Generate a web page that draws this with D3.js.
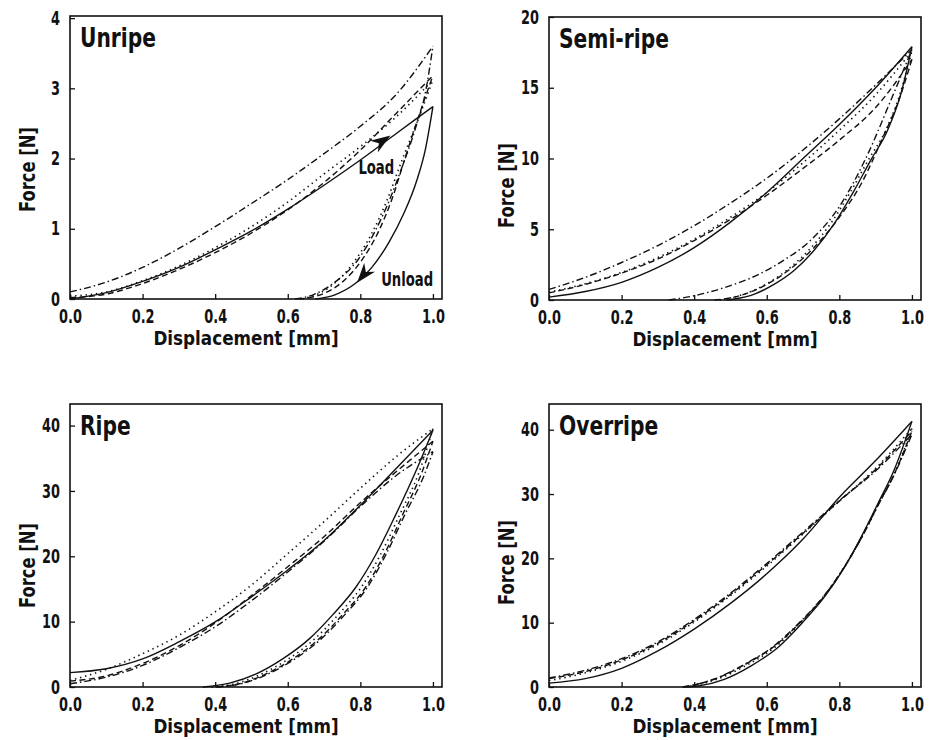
<!DOCTYPE html>
<html lang="en">
<head>
<meta charset="UTF-8">
<title>Force - Displacement</title>
<script src="https://d3js.org/d3.v7.min.js"></script>
<style>
  body { margin: 0; padding: 0; background: #fff; }
  svg text { font-family: "DejaVu Sans", sans-serif; font-weight: bold; fill: #111; }
</style>
</head>
<body>
<svg id="chart" width="929" height="740"></svg>
<script>
// displacement steps for the loading branch
const loadX = [0, 0.1, 0.2, 0.3, 0.4, 0.5, 0.6, 0.7, 0.8, 0.9, 1.0];
const xTicks = [0, 0.2, 0.4, 0.6, 0.8, 1.0];

// Unripe
const unripeLoadSolid   = [0, 0.09, 0.25, 0.45, 0.70, 0.97, 1.28, 1.62, 1.98, 2.36, 2.74];
const unripeLoadDashed  = [0.02, 0.07, 0.22, 0.42, 0.66, 0.94, 1.27, 1.66, 2.12, 2.65, 3.18];
const unripeLoadDotted  = [0.04, 0.10, 0.26, 0.47, 0.73, 1.03, 1.38, 1.78, 2.17, 2.60, 3.12];
const unripeLoadDashDot = [0.10, 0.24, 0.45, 0.72, 1.03, 1.36, 1.70, 2.07, 2.46, 2.92, 3.60];
const unripeUnloadSolid   = [[1,2.74],[0.98,2.15],[0.955,1.68],[0.92,1.22],[0.878,0.80],[0.83,0.44],[0.786,0.22],[0.73,0.06],[0.676,0]];
const unripeUnloadDashed  = [[1,3.18],[0.96,2.59],[0.924,2.02],[0.887,1.42],[0.85,0.96],[0.805,0.56],[0.75,0.24],[0.69,0.06],[0.63,0]];
const unripeUnloadDotted  = [[1,3.12],[0.955,2.5],[0.915,1.98],[0.873,1.40],[0.83,0.92],[0.777,0.49],[0.713,0.16],[0.64,0]];
const unripeUnloadDashDot = [[1,3.60],[0.98,2.96],[0.95,2.40],[0.915,1.88],[0.878,1.38],[0.84,0.96],[0.795,0.57],[0.73,0.24],[0.67,0.06],[0.62,0]];

// Semi-ripe
const semiLoadSolid   = [0.2, 0.6, 1.25, 2.3, 3.7, 5.5, 7.6, 10.0, 12.4, 15.0, 17.9];
const semiLoadDashed  = [0.5, 1.1, 1.9, 2.9, 4.2, 5.7, 7.4, 9.3, 11.3, 13.6, 17.0];
const semiLoadDotted  = [0.55, 1.15, 1.95, 3.0, 4.3, 5.85, 7.6, 9.7, 12.0, 14.5, 17.6];
const semiLoadDashDot = [0.75, 1.6, 2.65, 3.85, 5.25, 6.85, 8.6, 10.6, 12.8, 15.2, 17.7];
const semiUnloadSolid   = [[1,17.9],[0.97,14.6],[0.933,12.0],[0.887,9.9],[0.84,7.7],[0.786,5.4],[0.73,3.5],[0.676,2.1],[0.62,1.1],[0.566,0.42],[0.51,0.07],[0.49,0]];
const semiUnloadDashed  = [[1,17.0],[0.965,14.2],[0.92,11.5],[0.86,8.2],[0.80,5.85],[0.73,3.7],[0.66,2.1],[0.585,0.9],[0.51,0.2],[0.456,0]];
const semiUnloadDotted  = [[1,17.6],[0.965,14.4],[0.928,12.0],[0.88,9.9],[0.832,7.7],[0.776,5.4],[0.715,3.5],[0.655,2.1],[0.59,1.0],[0.53,0.35],[0.47,0]];
const semiUnloadDashDot = [[1,17.7],[0.94,14.0],[0.88,10.4],[0.80,6.6],[0.72,4.2],[0.64,2.7],[0.56,1.6],[0.48,0.85],[0.40,0.3],[0.33,0]];

// Ripe
const ripeLoadSolid   = [2.2, 2.8, 4.3, 6.9, 9.95, 13.8, 17.9, 22.4, 27.8, 33.5, 39.3];
const ripeLoadDashed  = [0.9, 1.7, 3.6, 6.3, 9.8, 14.0, 18.4, 23.0, 28.2, 33.0, 37.6];
const ripeLoadDotted  = [1.0, 2.7, 5.1, 7.9, 11.5, 15.6, 20.4, 25.3, 30.4, 35.3, 39.5];
const ripeLoadDashDot = [0.5, 1.5, 3.3, 6.0, 9.2, 13.2, 17.6, 22.3, 27.6, 32.4, 36.0];
const ripeUnloadSolid   = [[1,39.3],[0.952,32.9],[0.897,26.3],[0.842,20.2],[0.788,15.3],[0.723,11.0],[0.66,7.4],[0.586,4.3],[0.513,2.0],[0.44,0.6],[0.366,0]];
const ripeUnloadDashed  = [[1,37.6],[0.97,32.9],[0.916,26.3],[0.865,20.2],[0.815,15.3],[0.75,11.0],[0.687,7.4],[0.614,4.3],[0.54,2.0],[0.467,0.5],[0.403,0]];
const ripeUnloadDotted  = [[1,39.5],[0.962,32.9],[0.908,26.3],[0.855,20.2],[0.803,15.3],[0.738,11.0],[0.675,7.4],[0.602,4.3],[0.528,2.0],[0.455,0.5],[0.39,0]];
const ripeUnloadDashDot = [[1,36.0],[0.975,32.3],[0.922,26.3],[0.87,20.2],[0.82,15.3],[0.756,11.0],[0.693,7.4],[0.62,4.3],[0.546,2.0],[0.472,0.5],[0.405,0]];

// Overripe
const overLoadSolid   = [0.6, 1.3, 2.9, 5.6, 9.0, 13.0, 17.6, 23.0, 29.5, 35.2, 41.3];
const overLoadDashed  = [1.3, 2.4, 4.2, 6.8, 10.3, 14.4, 19.0, 23.9, 28.9, 33.8, 39.8];
const overLoadDotted  = [1.0, 2.2, 4.0, 6.6, 10.1, 14.2, 18.8, 23.8, 28.9, 34.0, 40.2];
const overLoadDashDot = [1.4, 2.6, 4.4, 7.0, 10.5, 14.6, 19.2, 24.1, 29.0, 33.6, 39.3];
const overUnloadSolid   = [[1,41.3],[0.951,33.75],[0.906,28.5],[0.86,23.3],[0.814,18.6],[0.759,14.0],[0.695,9.8],[0.63,6.1],[0.557,3.3],[0.483,1.2],[0.41,0.15],[0.38,0]];
const overUnloadDashed  = [[1,39.8],[0.953,33.3],[0.906,28.2],[0.86,23.1],[0.812,18.5],[0.756,14.0],[0.69,9.9],[0.62,6.3],[0.54,3.5],[0.46,1.3],[0.39,0.2],[0.37,0]];
const overUnloadDotted  = [[1,40.2],[0.954,33.5],[0.907,28.3],[0.861,23.2],[0.813,18.6],[0.757,14.0],[0.692,9.9],[0.623,6.2],[0.545,3.4],[0.465,1.25],[0.395,0.2],[0.375,0]];
const overUnloadDashDot = [[1,39.3],[0.952,33.1],[0.905,28.1],[0.859,23.0],[0.811,18.4],[0.755,14.0],[0.688,9.9],[0.618,6.3],[0.538,3.5],[0.458,1.3],[0.388,0.2],[0.368,0]];

const dashes = { solid: null, dashed: "6,3.5", dotted: "1.4,3.8", dashdot: "7,3,1.5,3" };

const panels = [
  { title: "Unripe", left: 70, top: 16, yMax: 4.03, yTicks: [0,1,2,3,4], yLabelShift: 12,
    load: { solid: unripeLoadSolid, dashed: unripeLoadDashed, dotted: unripeLoadDotted, dashdot: unripeLoadDashDot },
    unload: { solid: unripeUnloadSolid, dashed: unripeUnloadDashed, dotted: unripeUnloadDotted, dashdot: unripeUnloadDashDot } },
  { title: "Semi-ripe", left: 549, top: 17, yMax: 20, yTicks: [0,5,10,15,20], yLabelShift: 27,
    load: { solid: semiLoadSolid, dashed: semiLoadDashed, dotted: semiLoadDotted, dashdot: semiLoadDashDot },
    unload: { solid: semiUnloadSolid, dashed: semiUnloadDashed, dotted: semiUnloadDotted, dashdot: semiUnloadDashDot } },
  { title: "Ripe", left: 70, top: 404, yMax: 43.3, yTicks: [0,10,20,30,40], yLabelShift: 20,
    load: { solid: ripeLoadSolid, dashed: ripeLoadDashed, dotted: ripeLoadDotted, dashdot: ripeLoadDashDot },
    unload: { solid: ripeUnloadSolid, dashed: ripeUnloadDashed, dotted: ripeUnloadDotted, dashdot: ripeUnloadDashDot } },
  { title: "Overripe", left: 549, top: 404, yMax: 44, yTicks: [0,10,20,30,40], yLabelShift: 17,
    load: { solid: overLoadSolid, dashed: overLoadDashed, dotted: overLoadDotted, dashdot: overLoadDashDot },
    unload: { solid: overUnloadSolid, dashed: overUnloadDashed, dotted: overUnloadDotted, dashdot: overUnloadDashDot } }
];

const W = 372, H = 283;
const svg = d3.select("#chart");

// narrow the (wide) installed bold font so text widths match the condensed original
function squeeze(sel, s) {
  sel.each(function() {
    var t = d3.select(this);
    var x0 = +t.attr("x") || 0;
    t.attr("x", x0 / s).attr("transform", "scale(" + s + ",1)");
  });
}

svg.append("defs").append("marker")
  .attr("id", "head")
  .attr("viewBox", "0 0 20 14")
  .attr("refX", 20).attr("refY", 7)
  .attr("markerWidth", 20).attr("markerHeight", 14)
  .attr("markerUnits", "userSpaceOnUse")
  .attr("orient", "auto")
  .append("path").attr("d", "M0,0 L20,7 L0,14 L6,7 Z").attr("fill", "#111");

panels.forEach(function(p) {
  var x = d3.scaleLinear().domain([0, 1.025]).range([0, W]);
  var y = d3.scaleLinear().domain([0, p.yMax]).range([H, 0]);
  var g = svg.append("g").attr("transform", "translate(" + p.left + "," + p.top + ")");

  var line = d3.line()
    .x(function(d) { return x(d[0]); })
    .y(function(d) { return y(d[1]); })
    .curve(d3.curveMonotoneX);

  var curves = g.append("g");
  Object.keys(dashes).forEach(function(k) {
    var loadPts = loadX.map(function(v, i) { return [v, p.load[k][i]]; });
    var unloadPts = p.unload[k].slice().reverse();
    [loadPts, unloadPts].forEach(function(pts) {
      curves.append("path")
        .attr("d", line(pts))
        .attr("fill", "none")
        .attr("stroke", "#111")
        .attr("stroke-width", k === "dotted" ? 1.6 : 1.4)
        .attr("stroke-dasharray", dashes[k]);
    });
  });

  g.append("g")
    .attr("transform", "translate(0," + H + ")")
    .call(d3.axisBottom(x).tickValues(xTicks).tickFormat(d3.format(".1f")).tickSizeInner(-5).tickSizeOuter(0).tickPadding(11))
    .call(function(a) {
      a.select(".domain").remove();
      a.selectAll("line").attr("stroke", "#111").attr("stroke-width", 1.3);
      a.selectAll("text").attr("font-size", 19).attr("font-family", null).call(squeeze, 0.68);
    });

  g.append("g")
    .call(d3.axisLeft(y).tickValues(p.yTicks).tickFormat(d3.format("d")).tickSizeInner(-5).tickSizeOuter(0).tickPadding(10))
    .call(function(a) {
      a.select(".domain").remove();
      a.selectAll("line").attr("stroke", "#111").attr("stroke-width", 1.3);
      a.selectAll("text").attr("font-size", 19).attr("font-family", null).call(squeeze, 0.68);
    });

  g.append("rect")
    .attr("width", W).attr("height", H)
    .attr("fill", "none").attr("stroke", "#111").attr("stroke-width", 1.6);

  g.append("text")
    .attr("x", 10).attr("y", 31)
    .attr("font-size", 27)
    .text(p.title)
    .call(squeeze, 0.75);

  g.append("text")
    .attr("x", W / 2 - 10).attr("y", H + 46)
    .attr("text-anchor", "middle")
    .attr("font-size", 20)
    .text("Displacement [mm]")
    .call(squeeze, 0.84);

  g.append("g")
    .attr("transform", "translate(-35," + (H / 2 + p.yLabelShift) + ")rotate(-90)")
    .append("text")
    .attr("text-anchor", "middle")
    .attr("font-size", 21)
    .text("Force [N]")
    .call(squeeze, 0.78);

  if (p.title === "Unripe") {
    // Load / Unload arrows on the solid curve
    g.append("line")
      .attr("x1", x(0.80)).attr("y1", y(2.04))
      .attr("x2", x(0.883)).attr("y2", y(2.33))
      .attr("stroke", "none")
      .attr("marker-end", "url(#head)");
    g.append("line")
      .attr("x1", x(0.83)).attr("y1", y(0.48))
      .attr("x2", x(0.791)).attr("y2", y(0.23))
      .attr("stroke", "none")
      .attr("marker-end", "url(#head)");
    g.append("text").attr("x", x(0.844)).attr("y", y(1.78))
      .attr("text-anchor", "middle").attr("font-size", 20).text("Load")
      .call(squeeze, 0.66);
    g.append("text").attr("x", x(0.929)).attr("y", y(0.185))
      .attr("text-anchor", "middle").attr("font-size", 20).text("Unload")
      .call(squeeze, 0.66);
  }
});
</script>
</body>
</html>
